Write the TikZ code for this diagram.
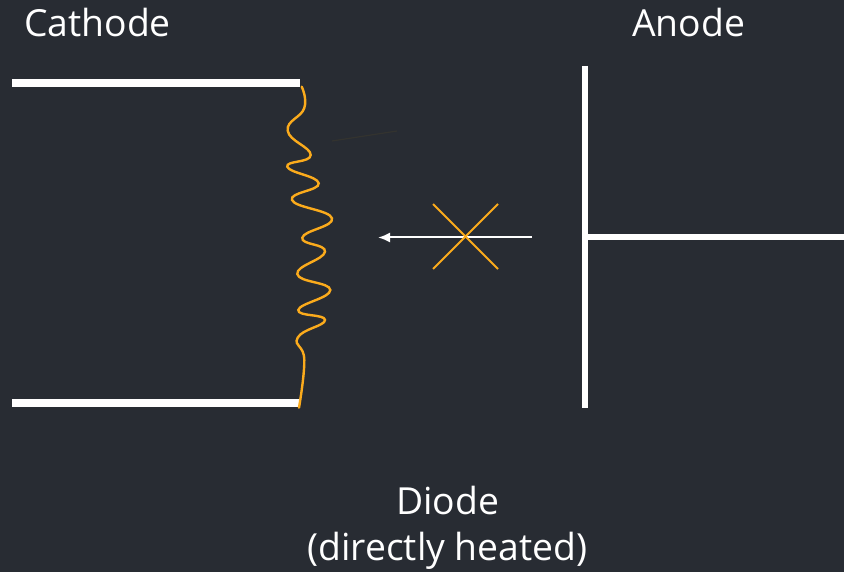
\documentclass[tikz,border=0pt]{standalone}
\usepackage{fontspec}
\setmainfont{Open Sans}
\usetikzlibrary{arrows.meta}
\definecolor{bgc}{HTML}{282C33}
\definecolor{amber}{HTML}{FBAB1C}
\definecolor{faint}{HTML}{33332F}
\tikzset{
  plate/.style={draw=white,line width=8pt},
  anodeline/.style={draw=white,line width=6pt},
  wire/.style={draw=amber,line width=2.4pt,line cap=round},
  crossline/.style={draw=amber,line width=1.9pt},
  label/.style={text=white,font=\fontsize{37.3}{46}\selectfont,inner sep=0pt,align=center}
}
\begin{document}
\begin{tikzpicture}[x=1pt,y=-1pt]
\useasboundingbox (0,0) rectangle (844,572);
\fill[bgc] (0,0) rectangle (844,572);
\draw[plate] (12,83) -- (300,83);
\draw[plate] (12,403) -- (300,403);
\draw[anodeline] (585,66) -- (585,408);
\draw[anodeline] (585,237.5) -- (844,237.5);
\draw[faint,line width=1.2pt] (332,141) -- (397,131);
\draw[wire] plot[smooth,tension=0.8] coordinates {(301.7,86.7) (304.3,108) (287.7,130.7) (310.7,155) (287.3,166.7) (318.7,183.3) (292,200) (332,218.3) (302.3,237.7) (325,251.7) (297.3,274) (330.3,290) (298.3,310) (325,320) (297.7,337.7) (304.3,360) (299,407.7)};
\coordinate (arrowstart) at (532,237.5);
\coordinate (arrowend) at (378,237.5);
\draw[white,line width=2pt,-{Latex[length=12pt,width=10pt]}] (arrowstart) -- (arrowend);
\coordinate (xa) at (433,204);
\coordinate (xb) at (498,269);
\coordinate (xc) at (498,204);
\coordinate (xd) at (433,269);
\draw[crossline] (xa) -- (xb);
\draw[crossline] (xc) -- (xd);
\node[label] (cathode) at (97.5,23) {Cathode};
\node[label] (anode) at (688.5,23) {Anode};
\node[label] (diode) at (447.5,528) {Diode\\(directly heated)};
\end{tikzpicture}
\end{document}
